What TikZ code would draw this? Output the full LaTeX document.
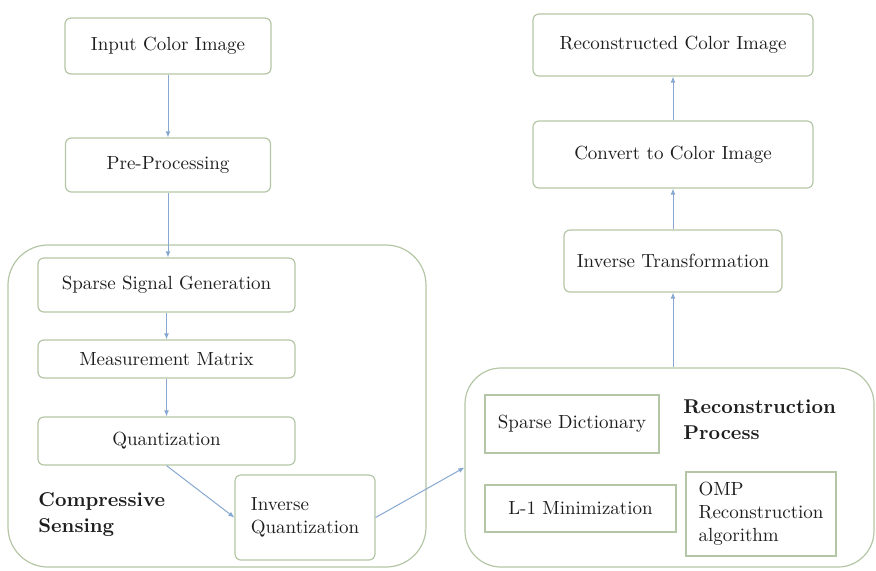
\documentclass[tikz,border=0pt]{standalone}
\usetikzlibrary{arrows.meta}

\definecolor{boxline}{RGB}{180,198,165}
\definecolor{flowline}{RGB}{135,168,208}
\definecolor{txt}{RGB}{30,30,30}

\begin{document}
\begin{tikzpicture}[
  x=0.5pt, y=-0.5pt,
  rbox/.style={draw=boxline,line width=0.6pt,rounded corners=3pt,inner sep=0pt,text=txt,font=\fontsize{9.5}{11.5}\selectfont},
  sbox/.style={draw=boxline,line width=0.6pt,inner sep=0pt,text=txt,font=\fontsize{9.5}{11.5}\selectfont},
  group/.style={draw=boxline,line width=0.6pt,rounded corners=20pt,inner sep=0pt},
  glabel/.style={anchor=west,align=left,inner sep=0pt,text=txt,font=\fontsize{10}{13}\selectfont\bfseries},
  flow/.style={draw=flowline,line width=0.5pt,-{Latex[length=3pt,width=2.5pt]}}
]
  \useasboundingbox (0,0) rectangle (876,570);

  % groups
  \node[group,minimum width=209pt,minimum height=161pt] (cs) at (217,406) {};
  \node[group,minimum width=204.5pt,minimum height=99.5pt,rounded corners=18pt] (rp) at (669.5,467.5) {};
  \node[glabel] (cslabel) at (38,515) {Compressive\\Sensing};
  \node[glabel] (rplabel) at (683,420) {Reconstruction\\Process};

  % left column
  \node[rbox,minimum width=103pt,minimum height=28pt] (inimg) at (168,46) {Input Color Image};
  \node[rbox,minimum width=102.5pt,minimum height=27pt] (prep) at (168,165) {Pre-Processing};
  \node[rbox,minimum width=128.5pt,minimum height=27pt] (sparse) at (166.5,285) {Sparse Signal Generation};
  \node[rbox,minimum width=128.5pt,minimum height=19pt] (meas) at (166.5,359) {Measurement Matrix};
  \node[rbox,minimum width=128.5pt,minimum height=24pt] (quant) at (166.5,441) {Quantization};
  \node[rbox,minimum width=70pt,minimum height=42.5pt,align=left] (invq) at (305,517.5) {Inverse\\Quantization};

  % right column
  \node[rbox,minimum width=140pt,minimum height=31pt] (recimg) at (673,45) {Reconstructed Color Image};
  \node[rbox,minimum width=140pt,minimum height=33.5pt] (conv) at (673,154.5) {Convert to Color Image};
  \node[rbox,minimum width=109pt,minimum height=31pt] (invt) at (673,261) {Inverse Transformation};

  % reconstruction parts
  \node[sbox,minimum width=87pt,minimum height=29pt] (sdict) at (572,424) {Sparse Dictionary};
  \node[sbox,minimum width=95.5pt,minimum height=23.5pt] (lmin) at (580.5,508.5) {L-1 Minimization};
  \node[sbox,minimum width=75pt,minimum height=42pt,align=left] (omp) at (761,514) {OMP\\Reconstruction\\algorithm};

  % arrows
  \draw[flow] (inimg) -- (prep);
  \draw[flow] (prep.south) -- (prep.south |- sparse.north);
  \draw[flow] (sparse.south) -- (sparse.south |- meas.north);
  \draw[flow] (meas) -- (quant);
  \draw[flow] (quant.south) -- (invq.west);
  \draw[flow] (invq.east) -- (rp.west);
  \draw[flow] (rp.north -| invt.south) -- (invt.south);
  \draw[flow] (invt) -- (conv);
  \draw[flow] (conv) -- (recimg);

\end{tikzpicture}
\end{document}
